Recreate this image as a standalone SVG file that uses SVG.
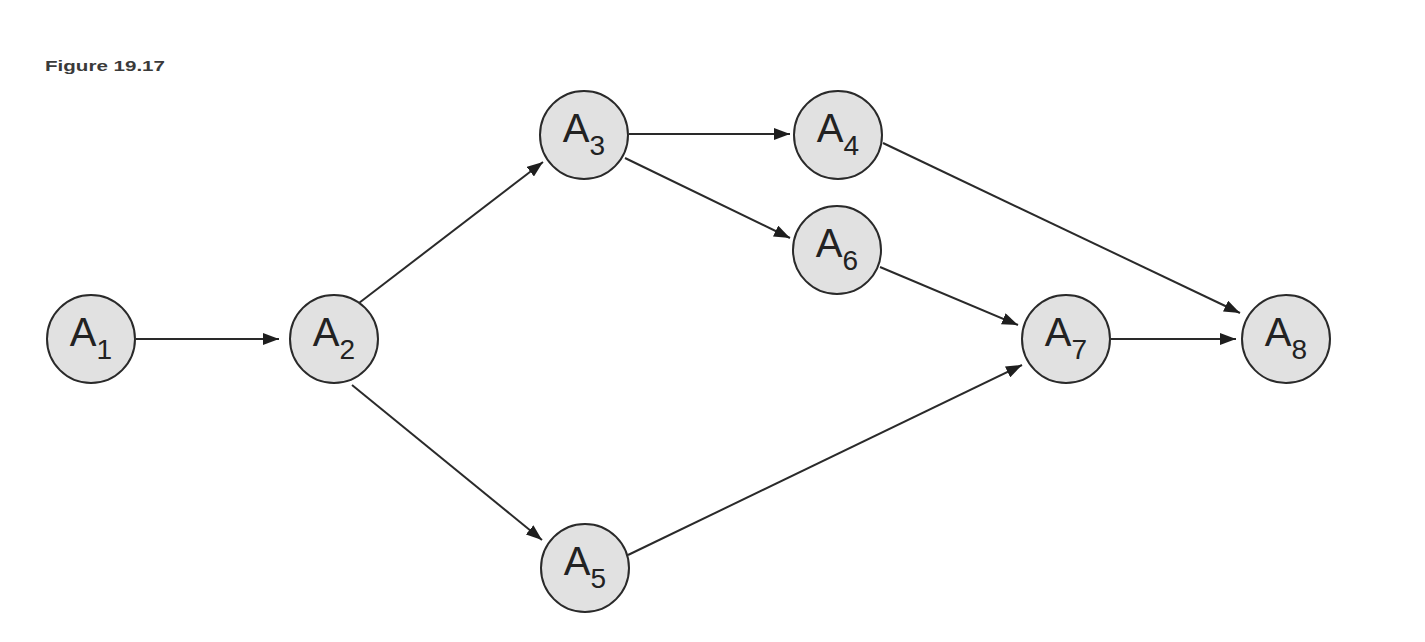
<svg xmlns="http://www.w3.org/2000/svg" width="1425" height="642" viewBox="0 0 1425 642">
  <style>
    .node circle { fill: #e1e1e1; stroke: #2a2a2a; stroke-width: 2; }
    .node text { font-family: "Liberation Sans", Arial, sans-serif; font-size: 40px; fill: #222; text-anchor: middle; }
    .node tspan.sub { font-size: 28px; }
    .edges line { stroke: #2a2a2a; stroke-width: 2; fill: none; marker-end: url(#arrow); }
    .title { font-family: "Liberation Sans", Arial, sans-serif; font-size: 15px; font-weight: bold; fill: #3a3a3a; }
  </style>
  <defs>
    <marker id="arrow" markerUnits="userSpaceOnUse" markerWidth="16" markerHeight="12" refX="16" refY="6" orient="auto">
      <path d="M0,0 L16,6 L0,12 z" fill="#1e1e1e"/>
    </marker>
  </defs>
  <rect width="1425" height="642" fill="#ffffff"/>
  <text class="title" x="45" y="71" textLength="120" lengthAdjust="spacingAndGlyphs">Figure 19.17</text>

  <g id="connectors" class="edges">
    <line x1="136" y1="339" x2="279" y2="339"/>
    <line x1="359" y1="303" x2="543" y2="162"/>
    <line x1="352" y1="385" x2="542" y2="540"/>
    <line x1="629" y1="134" x2="790" y2="134"/>
    <line x1="625" y1="158" x2="790" y2="238"/>
    <line x1="883" y1="143" x2="1240" y2="313"/>
    <line x1="880" y1="267" x2="1018" y2="325"/>
    <line x1="628" y1="555" x2="1022" y2="365"/>
    <line x1="1111" y1="339" x2="1236" y2="339"/>
  </g>

  <g id="A1" class="node">
    <circle cx="91" cy="339" r="44"/>
    <text x="91" y="346">A<tspan class="sub" dy="13">1</tspan></text>
  </g>
  <g id="A2" class="node">
    <circle cx="334" cy="339" r="44"/>
    <text x="334" y="346">A<tspan class="sub" dy="13">2</tspan></text>
  </g>
  <g id="A3" class="node">
    <circle cx="584" cy="135" r="44"/>
    <text x="584" y="142">A<tspan class="sub" dy="13">3</tspan></text>
  </g>
  <g id="A4" class="node">
    <circle cx="838" cy="135" r="44"/>
    <text x="838" y="142">A<tspan class="sub" dy="13">4</tspan></text>
  </g>
  <g id="A5" class="node">
    <circle cx="585" cy="568" r="44"/>
    <text x="585" y="575">A<tspan class="sub" dy="13">5</tspan></text>
  </g>
  <g id="A6" class="node">
    <circle cx="837" cy="250" r="44"/>
    <text x="837" y="257">A<tspan class="sub" dy="13">6</tspan></text>
  </g>
  <g id="A7" class="node">
    <circle cx="1066" cy="339" r="44"/>
    <text x="1066" y="346">A<tspan class="sub" dy="13">7</tspan></text>
  </g>
  <g id="A8" class="node">
    <circle cx="1286" cy="339" r="44"/>
    <text x="1286" y="346">A<tspan class="sub" dy="13">8</tspan></text>
  </g>
</svg>
